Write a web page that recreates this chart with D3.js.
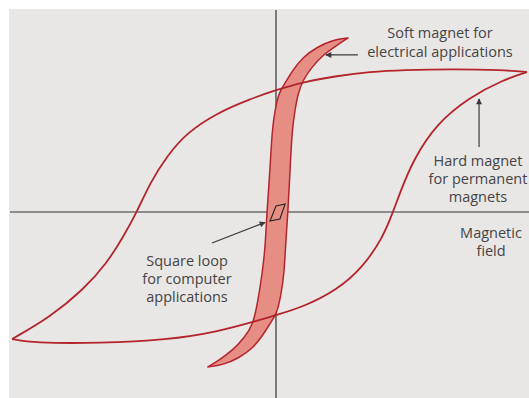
<!DOCTYPE html>
<html>
<head>
<meta charset="utf-8">
<script src="https://cdn.jsdelivr.net/npm/d3@7"></script>
<style>
  body { margin: 0; background: #fff; }
  text { font-family: "Open Sans", "Noto Sans", sans-serif; fill: #444; }
</style>
</head>
<body>
<div id="chart"></div>
<script>
// Hysteresis loops, field H (x) vs magnetisation B (y), arbitrary units
var hardDown = [[96.5,93.3],[87.3,94.7],[68.1,95.3],[48.8,94.7],[36.2,93.5],[23.5,90.7],[10.4,86.7],
  [0,81.3],[-10,75.3],[-22.7,66],[-34.2,53],[-41.9,37.5],[-48.5,19.3],[-53.5,0],
  [-58.8,-16.7],[-65,-34],[-74.2,-52],[-86.9,-70],[-101.5,-84.7]]
var hardUp = [[-101.5,-84.7],[-93.5,-87.3],[-67.7,-87.5],[-41.9,-85.3],[-22.7,-80],[-6.2,-72],
  [0,-68.7],[10.4,-63.3],[23.5,-52],[33.5,-36.7],[41.2,-16.7],[45,0],[47.5,12],[52.7,34.7],
  [61.9,59.3],[74.6,76.7],[87.3,88],[96.5,93.3]]

var softDown = [[27.7,116],[21.9,114.7],[15.8,110],[10.4,103.3],[6.5,94.7],[3.5,86],[1.2,80],
  [-0.4,68],[-1.5,54.7],[-2.3,28],[-3.5,0],[-4.2,-25.3],[-5.4,-42],[-6.9,-58.7],[-8.8,-75.3],
  [-12.3,-84],[-16.5,-92],[-21.9,-98.7],[-26.2,-103.3]]
var softUp = [[-26.2,-103.3],[-20.4,-102],[-14.2,-97.3],[-8.8,-90.7],[-5,-82],[-1.9,-73.3],
  [0.4,-67.3],[1.9,-55.3],[3.1,-42],[3.8,-18.7],[4.6,0],[5.4,28],[6.2,54.7],[7.3,68],[8.5,79.3],
  [10.4,88],[13.8,96.7],[18.1,104.7],[23.5,111.3],[27.7,116]]

var squareLoop = [[3.5,5.3],[0,4],[-2.3,-6],[1.5,-4.7]]

// label texts
var softLabel = ["Soft magnet for", "electrical applications"]
var hardLabel = ["Hard magnet", "for permanent", "magnets"]
var fieldLabel = ["Magnetic", "field"]
var squareLabel = ["Square loop", "for computer", "applications"]

var width = 529, height = 398

var x = d3.scaleLinear().domain([-100, 100]).range([16, 536])
var y = d3.scaleLinear().domain([-100, 100]).range([362, 62])

var svg = d3.select('#chart').append('svg')
  .attr('width', width)
  .attr('height', height)

// paper background
svg.append('rect')
  .attr('x', 9).attr('y', 9)
  .attr('width', width).attr('height', height)
  .attr('fill', '#e9e7e6')

var defs = svg.append('defs')
defs.append('marker')
  .attr('id', 'head')
  .attr('viewBox', '0 0 10 10')
  .attr('refX', 9).attr('refY', 5)
  .attr('markerWidth', 7).attr('markerHeight', 6)
  .attr('markerUnits', 'userSpaceOnUse')
  .attr('orient', 'auto')
  .append('path')
  .attr('d', 'M0,0L10,5L0,10Z')
  .attr('fill', '#3a3a3a')

// axes through the origin
svg.append('line')
  .attr('x1', x(0)).attr('x2', x(0))
  .attr('y1', 10).attr('y2', height)
  .attr('stroke', '#333').attr('stroke-width', 1.2)
svg.append('line')
  .attr('x1', 10).attr('x2', width)
  .attr('y1', y(0)).attr('y2', y(0))
  .attr('stroke', '#333').attr('stroke-width', 1.2)

var line = d3.line()
  .x(function(d) { return x(d[0]) })
  .y(function(d) { return y(d[1]) })
  .curve(d3.curveBasis)

// soft magnet: filled thin band
svg.append('path')
  .attr('d', line(softDown) + line(softUp).replace(/^M/, 'L') + 'Z')
  .attr('fill', '#e68e84')
  .attr('stroke', '#b3242c')
  .attr('stroke-width', 1.5)
  .attr('stroke-linejoin', 'round')

// hard magnet: wide loop
svg.selectAll('.hard')
  .data([hardDown, hardUp])
  .enter().append('path')
  .attr('class', 'hard')
  .attr('d', line)
  .attr('fill', 'none')
  .attr('stroke', '#b3242c')
  .attr('stroke-width', 1.8)

// square loop
svg.append('path')
  .datum(squareLoop)
  .attr('d', d3.line()
    .x(function(d) { return x(d[0]) })
    .y(function(d) { return y(d[1]) })
    .curve(d3.curveLinearClosed))
  .attr('fill', 'none')
  .attr('stroke', '#222')
  .attr('stroke-width', 1.1)

// pointer arrows (from, to) in data units
var arrows = [
  [[31.5, 104.7], [19.2, 104.7]],
  [[78.1, 43.3], [78.1, 75.4]],
  [[-24.6, -20.7], [-4.2, -6.9]]
]
svg.selectAll('.arrow')
  .data(arrows)
  .enter().append('line')
  .attr('class', 'arrow')
  .attr('x1', function(d) { return x(d[0][0]) })
  .attr('y1', function(d) { return y(d[0][1]) })
  .attr('x2', function(d) { return x(d[1][0]) })
  .attr('y2', function(d) { return y(d[1][1]) })
  .attr('stroke', '#3a3a3a')
  .attr('stroke-width', 1.2)
  .attr('marker-end', 'url(#head)')

function label(lines, cx, firstBaseline, step) {
  svg.append('text')
    .attr('text-anchor', 'middle')
    .attr('font-size', 14.5)
    .selectAll('tspan')
    .data(lines)
    .enter().append('tspan')
    .attr('x', cx)
    .attr('y', function(d, i) { return firstBaseline + i * step })
    .text(function(d) { return d })
}

label(softLabel, 440, 38, 19)
label(hardLabel, 478, 166, 18)
label(fieldLabel, 491, 238, 18)
label(squareLabel, 187, 265.5, 18)
</script>
</body>
</html>
